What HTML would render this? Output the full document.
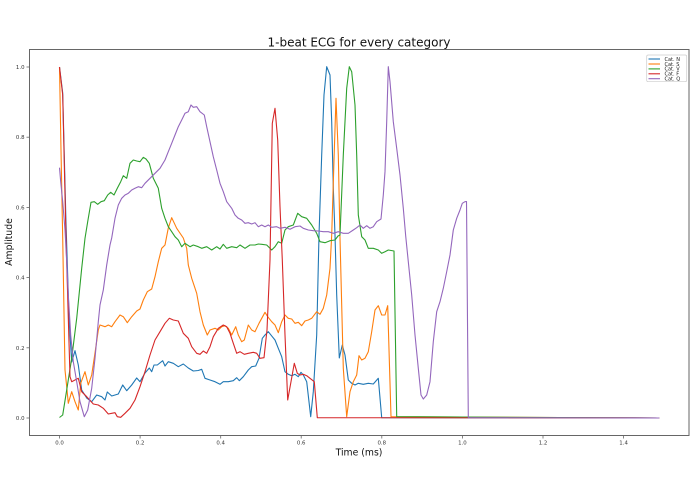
<!DOCTYPE html>
<html><head><meta charset="utf-8"><style>
html,body{margin:0;padding:0;background:#fff;}
svg{display:block;}
text{font-family:"DejaVu Sans","Liberation Sans",sans-serif;}
</style></head><body>
<svg width="695" height="494" viewBox="0 0 695 494" xmlns="http://www.w3.org/2000/svg">
<rect width="695" height="494" fill="#fff"/>
<text x="359" y="46.5" font-size="12" text-anchor="middle" fill="#111">1-beat ECG for every category</text>
<g fill="none" stroke-width="1.1" stroke-linejoin="round">
<polyline stroke="#1f77b4" points="59.5,67 62.7,93 65.9,220 69.1,320 71.7,362 75,350.7 78.3,365 81.7,390 86.7,398 91.7,401.7 96.7,395 101.7,396.7 105,400 107.3,392 111.7,396 118.3,394 122.7,385 126.7,390.7 131.7,385 136.7,378 140,381.7 145,373 149.3,368 151.7,371.7 154,365 157.3,365 162.7,360.7 165,366 168.3,361.7 173.3,363.3 178.3,366.7 183.3,364 188.3,368 193.3,371 198.3,370.5 201.7,369.3 205,378.3 210,380 215,381.7 220,384.3 223.3,381.7 228.3,381.7 233.3,380.7 236.7,377.7 239.3,380.7 243.3,376.7 248.3,370 251.7,366.7 255.7,366 259,358.3 262.3,338.3 265,335 268.3,331.7 272.3,336.7 275,340 278.3,348.3 281.7,356.7 285,371.7 288.3,374.3 291.7,375.7 295,374.3 298.3,376.7 301,372.3 303.3,375 306.7,381.7 310.7,416.7 313.3,391.7 316.7,335 319,235 321.7,155 324,95 326.7,66.7 330,75 331.7,121.7 333.3,188 335,235 336.7,295 339.3,358 342.3,345 345,355 348.3,380 351.7,383.3 355,385 358.3,383.3 363.3,384.3 368.3,383.3 373.3,384 378.3,378.3 381.7,417.7 659.3,418"/>
<polyline stroke="#ff7f0e" points="59.5,67 61,150 62.7,238 65,370 66.7,386.7 68.3,403.3 71.7,391.7 75,401.7 78.3,410 80.7,383.3 85,371.7 88.3,385 91.7,375 95,353 98.3,330 100,325 105,326.7 108.3,325 111.7,326.7 115,321.7 120,315 123.3,316.7 127.3,322.7 131.7,316.7 136.7,311 140,309 143.3,300 147.3,291.7 151.7,289 155,276.7 158.3,261.7 161.7,248.3 165,245 168.3,228 171.7,217.7 176.7,228.3 183.3,238 186.7,248.3 188.3,265 191.7,278.3 196.7,293.3 200,311.7 203.3,325 207.3,335 210,330 215,328.3 218.3,330 221.7,326.7 225,325.7 228.3,328.3 231.7,335 235.7,326.7 238.3,335 241.7,341.7 244.3,340 248.3,325 251.7,330 255,331.7 259,323.3 265,312.3 267.7,316.7 271.7,321.7 275,325 278.3,332.7 281.7,321.7 285,315 288.3,318.3 291.7,319 295,323.3 298.3,322.3 301.7,325.7 305,321 308.3,320 311.7,318.3 316.7,311.7 320,314.3 323.3,308.3 326.7,295 330,268.3 331.7,235 334,160 336,98.3 338.3,155 340,238 343.3,368.3 346.7,416.7 350,391.7 353.3,381.7 356.7,375 359,355.7 361.7,360 365,358.3 368.3,351.7 371.7,331.7 375,310 378.3,305.7 381.7,315 385,315 387.7,305.7 391,416.7 659.3,418"/>
<polyline stroke="#2ca02c" points="59.5,417.5 62.7,415 66.7,390 71.7,358.3 76.7,318.3 81.7,268.3 85,238.3 87.7,221.7 91,202.3 94.3,201.7 97.7,204.3 101,201.7 104.3,200.7 107.7,195 110.7,192.3 114,195 117.3,188.3 120.7,181.7 123.3,175.7 126.7,178.3 130,163.3 133.3,160 136.7,161 140,161.7 143.3,157.3 146,159 149.3,163.3 153.3,178.3 158.3,188.3 161.7,208.3 165,218.3 168.3,226.7 171.7,231.7 175,236.7 178.3,240 181.7,246.7 185,243.3 190,246.7 193.3,245 198.3,246.7 201.7,248.3 206.7,246.7 211.7,250 216.7,246.7 220,249 223.3,244.3 226.7,248.3 231.7,246.7 236.7,247.7 240,245 245,248.3 250,245 255,245 258.3,244 261.7,244.3 266.7,245 271.7,250 275,246.7 278.3,241.7 281.7,243.3 285,230 288.3,226.7 293.3,225 297.7,213.3 301.7,216.7 306.7,218.3 311.7,225 316.7,233.3 320,241.7 325,242.7 330,240.7 335,240 338,236 340,235 343.3,155 346.7,88.3 349.3,66.7 351.7,71.7 355,105 356.7,155 358.3,215 361.7,236.7 365,240 368.3,248.3 373.3,248.3 378.3,250 381.7,253.3 385,251.7 388.3,250 394,251 396.7,416.7 659.3,418"/>
<polyline stroke="#d62728" points="59.5,67 62.7,95 66,238 70,376.7 71.7,381.7 75,380 78.3,378.3 81.7,391.7 86.7,396.7 93.3,404 98.3,405 103.3,408.3 108.3,414 111.7,413.3 115,412.7 117.3,416.7 120.7,417.3 125,413.3 130,408.3 135,400 140,386.7 145,371.7 150,355 155,340 160,331.7 165,323.3 169.3,318.3 173.3,320 178.3,321 183.3,333.3 188.3,338.3 191.7,346.7 196.7,353.3 200,354.3 203.3,351 206.7,353.3 210,346.7 213.3,336.7 218.3,328.3 223.3,325 226.7,326.7 230,333.3 233.3,343.3 236.7,353.3 240,351.7 244.3,354.3 248.3,353.3 253.3,352.3 256.7,353.3 260,358.3 264,357.7 267,330 270,260 272.3,123.3 275,108.3 277.7,140 280,206.7 282.3,260 285,335 287.7,400 291,381.7 294.3,363.3 297.3,373.3 300,375 303.3,374.3 306.7,375.7 310,378.3 314.3,381.7 317.3,417.7 659.3,418"/>
<polyline stroke="#9467bd" points="59.5,167.7 60.7,181.7 62.7,201.7 65,230 66.7,261.7 68.3,295 70.7,335 73.3,361.7 76.7,381.7 80,401.7 84.3,416.7 87.7,410 91.7,388.3 95,358.3 98.3,321.7 100,305 103.3,290 106.7,265 110,245 111.7,238 115,218.3 118.3,205 121.7,198.3 125,195 128.3,193.3 131.7,190 135,188.3 138.3,186.7 141.7,187.7 145,183.3 150,178.3 155,173.3 160,168.3 165,160 168.3,151.7 171.7,143.3 175,135 178.3,126.7 181.7,120 185,113.3 188.3,111.7 191,105 193.3,107.3 196.7,106.7 200,111.7 204.3,115 206.7,126.7 210,141.7 213.3,156.7 216.7,170 220,183.3 223.3,191.7 226.7,201.7 231.7,208.3 235,215 238.3,218.3 241.7,220 245,223.3 248.3,222.7 251.7,224 255,222.7 258.3,226.7 261.7,225 265,226.7 268.3,225 271.7,227.3 276.7,226.7 280,228.3 285,227.3 290,229.3 295,226.7 300,226 303.3,228.3 308.3,230 313.3,230.7 318.3,231 323.3,231.7 328.3,231.7 333.3,233.3 338.3,231.7 343.3,233.3 348.3,233.3 353.3,230 356.7,227.7 360,225 363.3,228.3 366.7,225.7 370,228.3 373.3,226.7 376.7,221.7 381,219 383.3,195 385,171.7 386.7,121.7 388.3,66.7 390,81.7 393.3,121.7 396.7,148.3 400,175 403.3,208.3 405.7,236 408.3,261.7 411.7,295 415,335 418.3,368.3 421,395 423.3,399 426.7,395 430,381.7 433.3,341.7 436.7,311.7 440,301.7 443.3,288.3 446.7,271.7 450,255 453.3,230 456.7,218.3 460,210 462.3,203.3 465,201.7 466.5,201.5 468.3,417.7 659.3,418"/>
</g>
<rect x="29.5" y="49.5" width="659.5" height="386" fill="none" stroke="#666" stroke-width="1"/>
<g stroke="#666" stroke-width="0.8">
<line x1="26.5" y1="418" x2="29.5" y2="418"/>
<line x1="26.5" y1="347.8" x2="29.5" y2="347.8"/>
<line x1="26.5" y1="277.6" x2="29.5" y2="277.6"/>
<line x1="26.5" y1="207.4" x2="29.5" y2="207.4"/>
<line x1="26.5" y1="137.2" x2="29.5" y2="137.2"/>
<line x1="26.5" y1="67" x2="29.5" y2="67"/>
<line x1="59.5" y1="435.5" x2="59.5" y2="438.5"/>
<line x1="140.1" y1="435.5" x2="140.1" y2="438.5"/>
<line x1="220.7" y1="435.5" x2="220.7" y2="438.5"/>
<line x1="301.2" y1="435.5" x2="301.2" y2="438.5"/>
<line x1="381.8" y1="435.5" x2="381.8" y2="438.5"/>
<line x1="462.4" y1="435.5" x2="462.4" y2="438.5"/>
<line x1="543" y1="435.5" x2="543" y2="438.5"/>
<line x1="623.6" y1="435.5" x2="623.6" y2="438.5"/>
</g>
<g font-size="5.4" fill="#333" text-anchor="end">
<text x="24.5" y="420">0.0</text>
<text x="24.5" y="349.8">0.2</text>
<text x="24.5" y="279.6">0.4</text>
<text x="24.5" y="209.4">0.6</text>
<text x="24.5" y="139.2">0.8</text>
<text x="24.5" y="69">1.0</text>
</g>
<g font-size="5.4" fill="#333" text-anchor="middle">
<text x="59.5" y="444.5">0.0</text>
<text x="140.1" y="444.5">0.2</text>
<text x="220.7" y="444.5">0.4</text>
<text x="301.2" y="444.5">0.6</text>
<text x="381.8" y="444.5">0.8</text>
<text x="462.4" y="444.5">1.0</text>
<text x="543" y="444.5">1.2</text>
<text x="623.6" y="444.5">1.4</text>
</g>
<text x="359" y="455.5" font-size="9.3" text-anchor="middle" fill="#111">Time (ms)</text>
<text transform="translate(12,242) rotate(-90)" font-size="9.3" text-anchor="middle" fill="#111">Amplitude</text>
<rect x="646.7" y="55" width="40" height="26.7" rx="1.5" fill="#fff" fill-opacity="0.8" stroke="#ccc" stroke-width="0.7"/>
<g stroke-width="1.1">
<line x1="648.5" y1="59" x2="660" y2="59" stroke="#1f77b4"/>
<line x1="648.5" y1="64" x2="660" y2="64" stroke="#ff7f0e"/>
<line x1="648.5" y1="68.9" x2="660" y2="68.9" stroke="#2ca02c"/>
<line x1="648.5" y1="73.8" x2="660" y2="73.8" stroke="#d62728"/>
<line x1="648.5" y1="78.7" x2="660" y2="78.7" stroke="#9467bd"/>
</g>
<g font-size="5" fill="#222">
<text x="664.5" y="60.8">Cat. N</text>
<text x="664.5" y="65.8">Cat. S</text>
<text x="664.5" y="70.7">Cat. V</text>
<text x="664.5" y="75.6">Cat. F</text>
<text x="664.5" y="80.5">Cat. Q</text>
</g>
</svg>
</body></html>
